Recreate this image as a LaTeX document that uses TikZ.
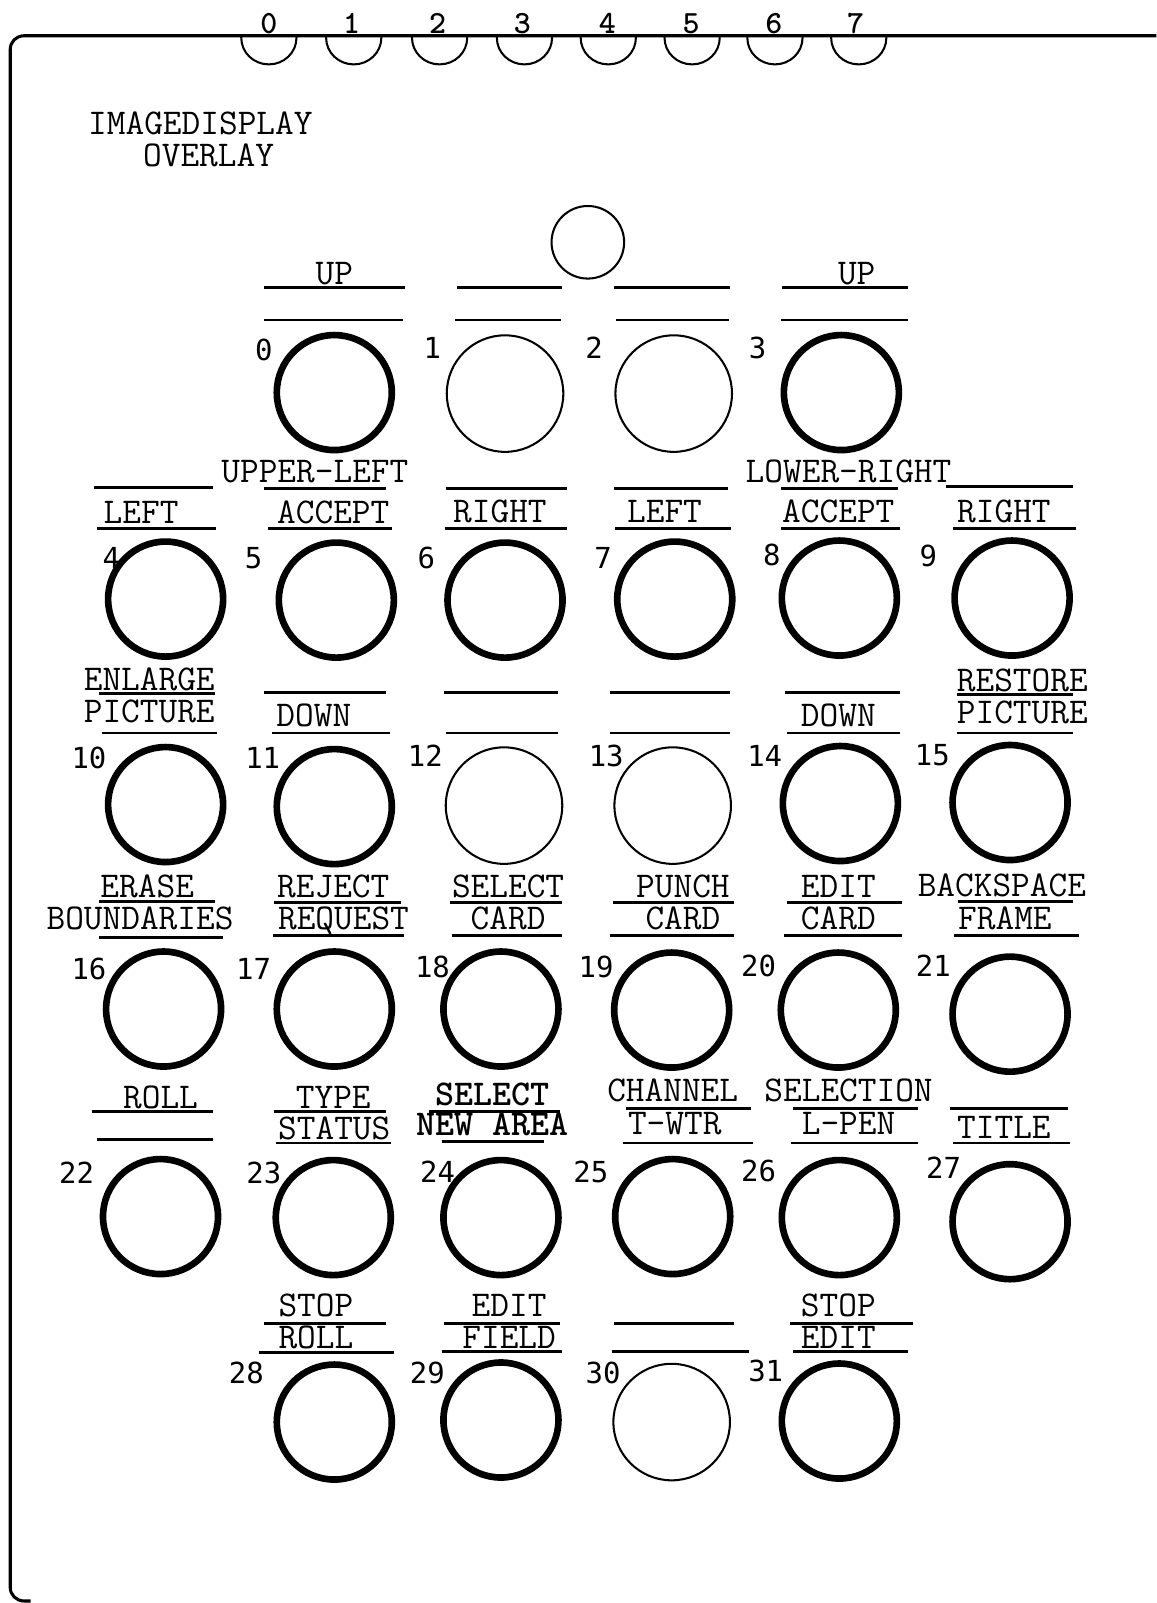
\documentclass[tikz,border=0pt]{standalone}
\usepackage{fontspec}
\newfontfamily\dg{DejaVu Sans Mono}
\begin{document}
\begin{tikzpicture}[x=0.6pt,y=-0.6pt,
  lbl/.style={font=\ttfamily\fontsize{21.3pt}{23pt}\selectfont,anchor=base,inner sep=0pt},
  lblb/.style={lbl,font=\ttfamily\bfseries\fontsize{21.3pt}{23pt}\selectfont},
  num/.style={font=\dg\fontsize{17pt}{19pt}\selectfont,anchor=base,inner sep=0pt},
  tabnum/.style={font=\ttfamily\bfseries\fontsize{19pt}{21pt}\selectfont,anchor=base,inner sep=0pt},
  btn/.style={draw,circle,line width=3.9pt,minimum size=67.5pt,inner sep=0pt},
  btnthin/.style={draw,circle,line width=1.2pt,minimum size=68.4pt,inner sep=0pt},
  rule/.style={line width=1.7pt},
  frame/.style={line width=1.8pt,rounded corners=8pt},
  tab/.style={line width=1.2pt}]
\useasboundingbox (0,0) rectangle (1131,1568);
% frame
\draw[frame] (1131,35) -- (10,35) -- (10,1566) -- (30,1566);
% top tabs
\foreach \cx/\tx/\n in {263/263/0,346/344/1,430/428/2,513/511/3,595/594/4,677/676/5,758/757/6,840/837/7}{
  \draw[tab] (\cx-27,35) -- (\cx-27,37) arc[start angle=180,end angle=0,x radius=27,y radius=26] -- (\cx+27,35);
  \node[tabnum] (tn\n) at (\tx,33) {\n};
}
% title
\node[lbl] (title1) at (196,132) {IMAGEDISPLAY};
\node[lbl] (title2) at (204,163) {OVERLAY};
\node[btnthin,minimum size=42.6pt] (sc) at (575,237) {};

% ---------- row A ----------
\node[lbl] (tA0) at (327,278) {UP};
\node[lbl] (tA3) at (838,278) {UP};
\draw[rule] (258,281) -- (396,281);  \draw[rule] (258,313) -- (394,313);
\draw[rule] (447,281) -- (550,281);  \draw[rule] (445,313) -- (549,313);
\draw[rule] (601,281) -- (714,281);  \draw[rule] (603,313) -- (713,313);
\draw[rule] (765,281) -- (888,281);  \draw[rule] (764,313) -- (888,313);
\node[num] (n0) at (258,353) {0};
\node[num] (n1) at (423,351) {1};
\node[num] (n2) at (581,351) {2};
\node[num] (n3) at (741,351) {3};
\node[btn] (b0) at (327,384) {};
\node[btnthin] (b1) at (494,385) {};
\node[btnthin] (b2) at (659,385) {};
\node[btn] (b3) at (823,384) {};

% ---------- row B ----------
\node[lbl] (tUL) at (308,472) {UPPER-LEFT};
\node[lbl] (tLR) at (830,472) {LOWER-RIGHT};
\draw[rule] (92,477) -- (208,477);
\draw[rule] (258,478) -- (378,478);
\draw[rule] (436,478) -- (555,478);
\draw[rule] (601,478) -- (712,478);
\draw[rule] (764,478) -- (878,478);
\draw[rule] (925,476) -- (1050,476);
\node[lbl] (tB4) at (138,512) {LEFT};
\node[lbl] (tB5) at (326,512) {ACCEPT};
\node[lbl] (tB6) at (489,511) {RIGHT};
\node[lbl] (tB7) at (650,511) {LEFT};
\node[lbl] (tB8) at (820,511) {ACCEPT};
\node[lbl] (tB9) at (982,511) {RIGHT};
\draw[rule] (95,517) -- (211,517);
\draw[rule] (262,517) -- (383,517);
\draw[rule] (435,517) -- (555,517);
\draw[rule] (602,517) -- (715,517);
\draw[rule] (764,517) -- (880,517);
\draw[rule] (932,517) -- (1052,517);
\node[num] (n4) at (109,556) {4};
\node[num] (n5) at (248,556) {5};
\node[num] (n6) at (417,556) {6};
\node[num] (n7) at (590,556) {7};
\node[num] (n8) at (755,553) {8};
\node[num] (n9) at (908,554) {9};
\node[btn] (b4) at (162,586) {};
\node[btn] (b5) at (329,587) {};
\node[btn] (b6) at (494,587) {};
\node[btn] (b7) at (660,586) {};
\node[btn] (b8) at (821,585) {};
\node[btn] (b9) at (990,585) {};

% ---------- row C ----------
\node[lbl] (tC10a) at (146,675) {ENLARGE};
\node[lbl] (tC10b) at (146,707) {PICTURE};
\node[lbl] (tC11) at (307,711) {DOWN};
\node[lbl] (tC14) at (820,711) {DOWN};
\node[lbl] (tC15a) at (1000,676) {RESTORE};
\node[lbl] (tC15b) at (1000,708) {PICTURE};
\draw[rule] (97,678) -- (210,678);
\draw[rule] (258,677) -- (378,677);
\draw[rule] (434,677) -- (546,677);
\draw[rule] (597,677) -- (714,677);
\draw[rule] (768,677) -- (880,677);
\draw[rule] (936,679) -- (1050,679);
\draw[rule] (100,717) -- (212,717);
\draw[rule] (266,717) -- (381,717);
\draw[rule] (436,717) -- (546,717);
\draw[rule] (597,717) -- (714,717);
\draw[rule] (770,717) -- (880,717);
\draw[rule] (936,717) -- (1050,717);
\node[num] (n10) at (87,752) {10};
\node[num] (n11) at (257,752) {11};
\node[num] (n12) at (416,750) {12};
\node[num] (n13) at (593,750) {13};
\node[num] (n14) at (748,750) {14};
\node[num] (n15) at (912,749) {15};
\node[btn] (b10) at (162,787) {};
\node[btn] (b11) at (327,789) {};
\node[btnthin] (b12) at (493,788) {};
\node[btnthin] (b13) at (658,788) {};
\node[btn] (b14) at (822,786) {};
\node[btn] (b15) at (988,785) {};

% ---------- row D ----------
\node[lbl] (tD16a) at (144,878) {ERASE};
\node[lbl] (tD16b) at (137,909) {BOUNDARIES};
\node[lbl] (tD17a) at (326,878) {REJECT};
\node[lbl] (tD17b) at (336,909) {REQUEST};
\node[lbl] (tD18a) at (497,878) {SELECT};
\node[lbl] (tD18b) at (497,909) {CARD};
\node[lbl] (tD19a) at (668,878) {PUNCH};
\node[lbl] (tD19b) at (668,909) {CARD};
\node[lbl] (tD20a) at (820,878) {EDIT};
\node[lbl] (tD20b) at (820,909) {CARD};
\node[lbl] (tD21a) at (980,877) {BACKSPACE};
\node[lbl] (tD21b) at (983,909) {FRAME};
\draw[rule] (97,882) -- (210,882);
\draw[rule] (268,883) -- (392,883);
\draw[rule] (440,883) -- (550,883);
\draw[rule] (600,883) -- (718,883);
\draw[rule] (770,883) -- (882,883);
\draw[rule] (937,882) -- (1050,882);
\draw[rule] (97,917) -- (218,917);
\draw[rule] (267,915) -- (395,915);
\draw[rule] (442,915) -- (550,915);
\draw[rule] (597,915) -- (718,915);
\draw[rule] (767,915) -- (882,915);
\draw[rule] (933,915) -- (1055,915);
\node[num] (n16) at (87,958) {16};
\node[num] (n17) at (248,958) {17};
\node[num] (n18) at (423,956) {18};
\node[num] (n19) at (583,956) {19};
\node[num] (n20) at (742,955) {20};
\node[num] (n21) at (913,955) {21};
\node[btn] (b16) at (160,987) {};
\node[btn] (b17) at (327,987) {};
\node[btn] (b18) at (490,987) {};
\node[btn] (b19) at (657,988) {};
\node[btn] (b20) at (820,988) {};
\node[btn] (b21) at (988,992) {};

% ---------- row E ----------
\node[lbl] (tE22) at (157,1084) {ROLL};
\node[lbl] (tE23a) at (326,1084) {TYPE};
\node[lbl] (tE23b) at (327,1115) {STATUS};
\node[lblb] (tE24a) at (482,1081) {SELECT};
\node[lblb] (tE24b) at (482,1111) {NEW AREA};
\node[lbl] (tE25a) at (658,1077) {CHANNEL};
\node[lbl] (tE25b) at (660,1110) {T-WTR};
\node[lbl] (tE26a) at (830,1077) {SELECTION};
\node[lbl] (tE26b) at (830,1110) {L-PEN};
\node[lbl] (tE27) at (982,1114) {TITLE};
\draw[rule] (90,1087) -- (208,1087);
\draw[rule] (268,1087) -- (378,1087);
\draw[rule] (420,1087) -- (548,1087);
\draw[rule] (612,1084) -- (735,1084);
\draw[rule] (776,1084) -- (898,1084);
\draw[rule] (929,1084) -- (1045,1084);
\draw[rule] (95,1115) -- (208,1115);
\draw[rule] (270,1118) -- (382,1118);
\draw[rule] (432,1117) -- (532,1117);
\draw[rule] (609,1118) -- (737,1118);
\draw[rule] (774,1118) -- (898,1118);
\draw[rule] (932,1118) -- (1047,1118);
\node[num] (n22) at (75,1158) {22};
\node[num] (n23) at (258,1158) {23};
\node[num] (n24) at (428,1157) {24};
\node[num] (n25) at (578,1157) {25};
\node[num] (n26) at (742,1156) {26};
\node[num] (n27) at (923,1153) {27};
\node[btn] (b22) at (157,1190) {};
\node[btn] (b23) at (326,1191) {};
\node[btn] (b24) at (490,1191) {};
\node[btn] (b25) at (658,1190) {};
\node[btn] (b26) at (821,1191) {};
\node[btn] (b27) at (988,1195) {};

% ---------- row F ----------
\node[lbl] (tF28a) at (309,1288) {STOP};
\node[lbl] (tF28b) at (309,1319) {ROLL};
\node[lbl] (tF29a) at (498,1288) {EDIT};
\node[lbl] (tF29b) at (498,1319) {FIELD};
\node[lbl] (tF31a) at (820,1288) {STOP};
\node[lbl] (tF31b) at (820,1319) {EDIT};
\draw[rule] (258,1295) -- (378,1295);
\draw[rule] (434,1295) -- (548,1295);
\draw[rule] (601,1295) -- (718,1295);
\draw[rule] (773,1295) -- (893,1295);
\draw[rule] (253,1323) -- (385,1323);
\draw[rule] (432,1322) -- (550,1322);
\draw[rule] (599,1322) -- (733,1322);
\draw[rule] (776,1322) -- (888,1322);
\node[num] (n28) at (241,1353) {28};
\node[num] (n29) at (418,1353) {29};
\node[num] (n30) at (590,1353) {30};
\node[num] (n31) at (749,1351) {31};
\node[btn] (b28) at (327,1391) {};
\node[btn] (b29) at (490,1389) {};
\node[btnthin] (b30) at (657,1391) {};
\node[btn] (b31) at (821,1390) {};
\end{tikzpicture}
\end{document}
